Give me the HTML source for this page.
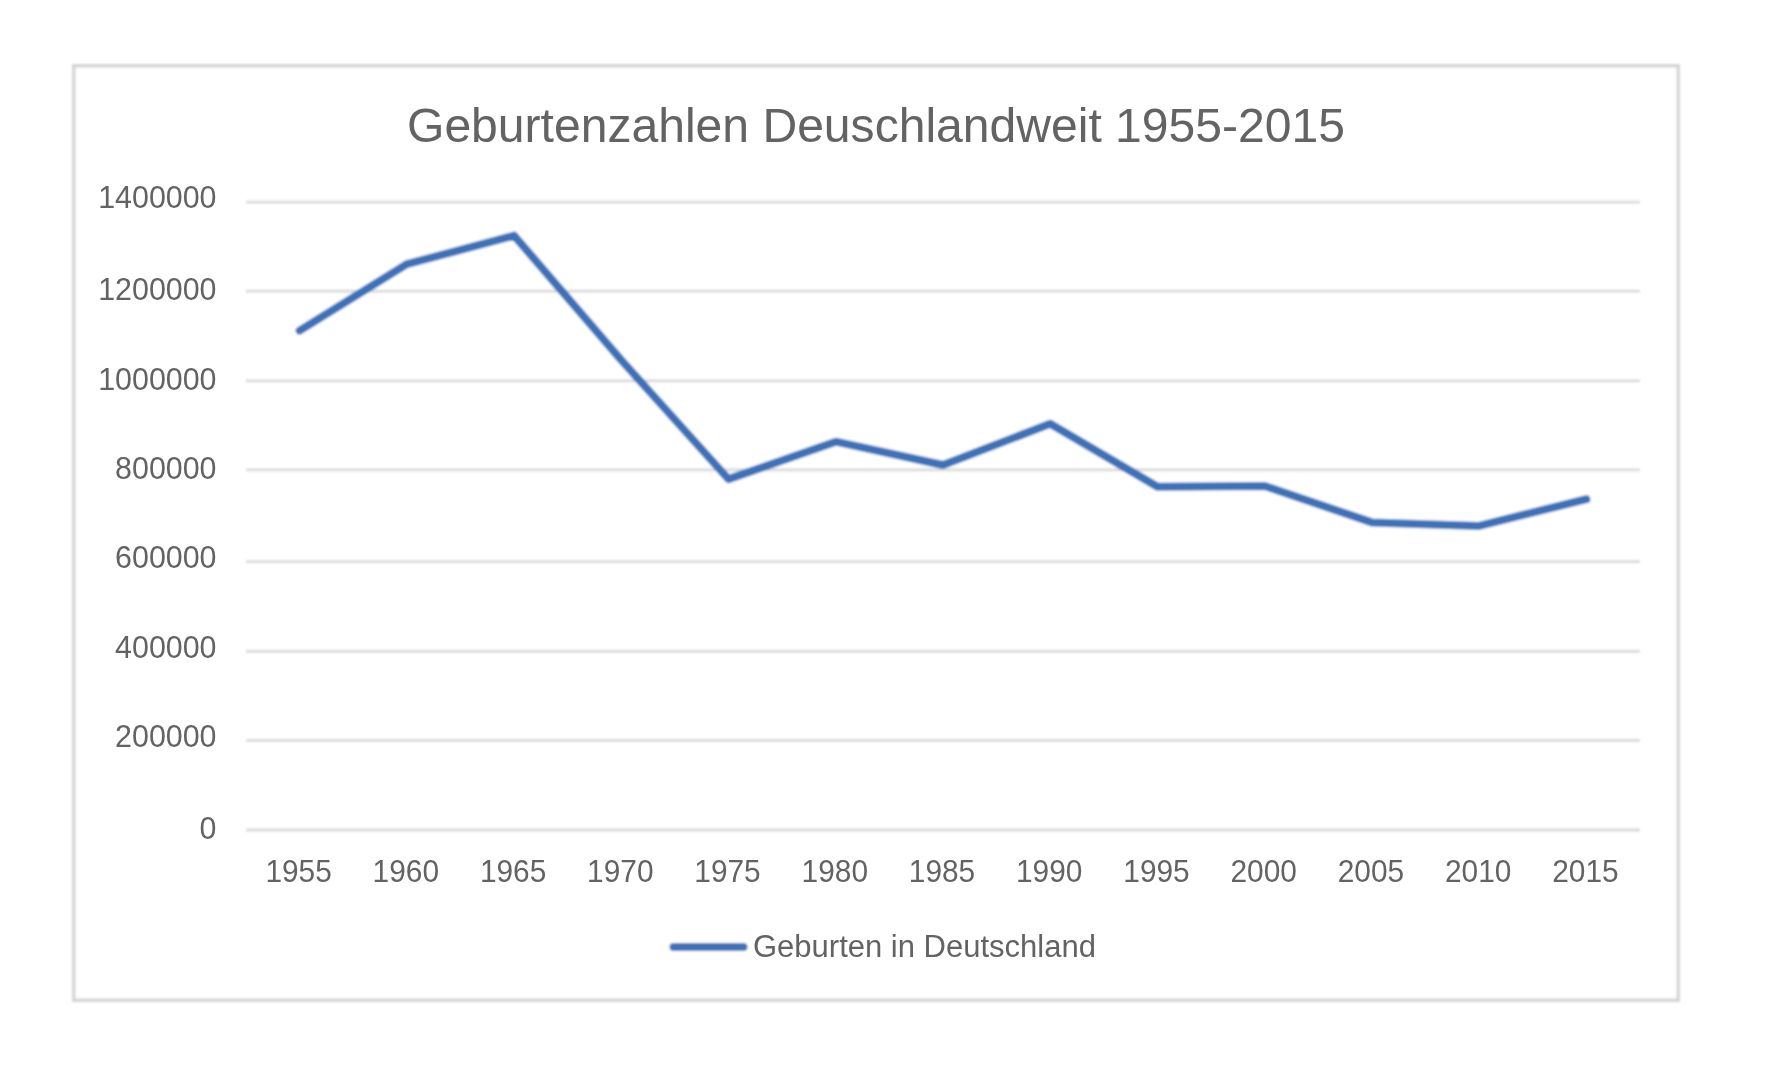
<!DOCTYPE html>
<html><head><meta charset="utf-8"><style>
html,body{margin:0;padding:0;background:#fff;width:1772px;height:1074px;overflow:hidden}
svg{position:absolute;left:0;top:0}
text{font-family:"Liberation Sans",sans-serif;fill:#636363}
</style></head><body>
<svg width="1772" height="1074" viewBox="0 0 1772 1074">
<defs><filter id="fs" filterUnits="userSpaceOnUse" x="0" y="0" width="1772" height="1074"><feGaussianBlur stdDeviation="0.9"/></filter>
<filter id="ft" filterUnits="userSpaceOnUse" x="0" y="0" width="1772" height="1074"><feGaussianBlur stdDeviation="0.7"/></filter></defs>
<g filter="url(#fs)">
<rect x="73.75" y="65.75" width="1604.5" height="934.5" fill="#fff" stroke="#d6d6d6" stroke-width="3.5"/>
<g stroke="#d9d9d9" stroke-width="2.8"><line x1="246" x2="1640" y1="830" y2="830"/><line x1="246" x2="1640" y1="740.4" y2="740.4"/><line x1="246" x2="1640" y1="651.3" y2="651.3"/><line x1="246" x2="1640" y1="561.6" y2="561.6"/><line x1="246" x2="1640" y1="469.9" y2="469.9"/><line x1="246" x2="1640" y1="380.8" y2="380.8"/><line x1="246" x2="1640" y1="291.2" y2="291.2"/><line x1="246" x2="1640" y1="202.1" y2="202.1"/></g>
<polyline points="299.6,330.6 406.8,264.2 514.1,235.6 621.3,360.1 728.5,479.1 835.8,441.7 943.0,465.0 1050.2,423.8 1157.5,486.8 1264.7,486.0 1371.9,522.4 1479.2,525.9 1586.4,499.2" fill="none" stroke="#3d71b8" stroke-width="8" stroke-linejoin="round" stroke-linecap="round"/>
<line x1="673.5" x2="743.5" y1="947" y2="947" stroke="#3d71b8" stroke-width="8" stroke-linecap="round"/>
</g>
<g filter="url(#ft)">
<g font-size="31" text-anchor="end"><text x="216.5" y="838.9" textLength="16.9" lengthAdjust="spacingAndGlyphs">0</text><text x="216.5" y="746.6" textLength="101.4" lengthAdjust="spacingAndGlyphs">200000</text><text x="216.5" y="657.7" textLength="101.4" lengthAdjust="spacingAndGlyphs">400000</text><text x="216.5" y="567.9" textLength="101.4" lengthAdjust="spacingAndGlyphs">600000</text><text x="216.5" y="479" textLength="101.4" lengthAdjust="spacingAndGlyphs">800000</text><text x="216.5" y="389.9" textLength="118.3" lengthAdjust="spacingAndGlyphs">1000000</text><text x="216.5" y="300" textLength="118.3" lengthAdjust="spacingAndGlyphs">1200000</text><text x="216.5" y="208" textLength="118.3" lengthAdjust="spacingAndGlyphs">1400000</text></g>
<g font-size="31" text-anchor="middle"><text x="298.6" y="881.5" textLength="66.4" lengthAdjust="spacingAndGlyphs">1955</text><text x="405.8" y="881.5" textLength="66.4" lengthAdjust="spacingAndGlyphs">1960</text><text x="513.1" y="881.5" textLength="66.4" lengthAdjust="spacingAndGlyphs">1965</text><text x="620.3" y="881.5" textLength="66.4" lengthAdjust="spacingAndGlyphs">1970</text><text x="727.5" y="881.5" textLength="66.4" lengthAdjust="spacingAndGlyphs">1975</text><text x="834.8" y="881.5" textLength="66.4" lengthAdjust="spacingAndGlyphs">1980</text><text x="942.0" y="881.5" textLength="66.4" lengthAdjust="spacingAndGlyphs">1985</text><text x="1049.2" y="881.5" textLength="66.4" lengthAdjust="spacingAndGlyphs">1990</text><text x="1156.5" y="881.5" textLength="66.4" lengthAdjust="spacingAndGlyphs">1995</text><text x="1263.7" y="881.5" textLength="66.4" lengthAdjust="spacingAndGlyphs">2000</text><text x="1370.9" y="881.5" textLength="66.4" lengthAdjust="spacingAndGlyphs">2005</text><text x="1478.2" y="881.5" textLength="66.4" lengthAdjust="spacingAndGlyphs">2010</text><text x="1585.4" y="881.5" textLength="66.4" lengthAdjust="spacingAndGlyphs">2015</text></g>
<text x="876" y="142" font-size="49" text-anchor="middle" textLength="938" lengthAdjust="spacingAndGlyphs">Geburtenzahlen Deuschlandweit 1955-2015</text>
<text x="753" y="956.5" font-size="31">Geburten in Deutschland</text>
</g>
</svg>
</body></html>
